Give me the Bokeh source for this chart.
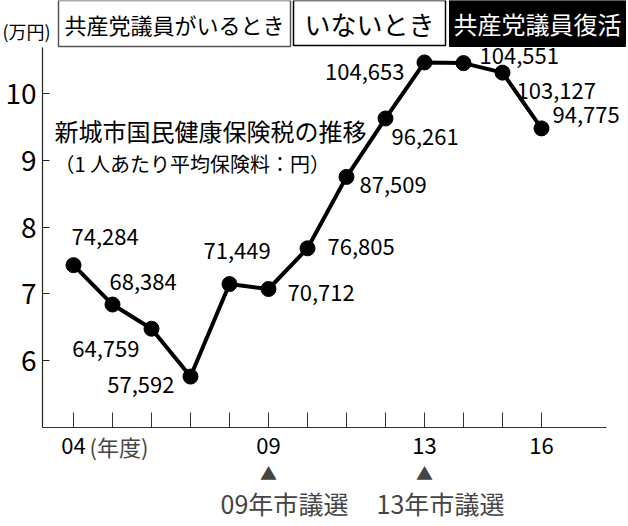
from bokeh.plotting import figure
from bokeh.models import ColumnDataSource, Label, FixedTicker, Range1d
from bokeh.core.properties import value
from bokeh.embed import file_html
from bokeh.resources import INLINE

# ---- data ----
years = [2004, 2005, 2006, 2007, 2008, 2009, 2010, 2011, 2012, 2013, 2014, 2015, 2016]
premium_yen = [74284, 68384, 64759, 57592, 71449, 70712, 76805, 87509, 96261, 104653, 104551, 103127, 94775]
y_ticks = [6, 7, 8, 9, 10]
x_tick_labels = {2004: "04", 2009: "09", 2013: "13", 2016: "16"}
elections = [2009, 2013]
election_labels = ["09年市議選", "13年市議選"]
periods = ["共産党議員がいるとき", "いないとき", "共産党議員復活"]

# label placement (screen px offsets relative to each point) - layout only
lbl_dx = [-2, -3, -12, -16, -26, 19, 20, 13, 6, -20, 16, 14, 11]
lbl_dy = [-28, -23, 20, 8, -33, 4, -1, 8, 19, 10, -7, 18, -13]
lbl_align = ["left", "left", "right", "right", "left", "left", "left", "left", "left", "right", "left", "left", "left"]

FONT = "Noto Sans CJK JP"
W, H = 626, 524
PX_PER_YEAR = 39.0
PX_PER_UNIT = 66.75
X0 = 2004 - 73 / PX_PER_YEAR
X1 = X0 + W / PX_PER_YEAR
Y1 = 10 + 93 / PX_PER_UNIT
Y0 = Y1 - H / PX_PER_UNIT

def dx(cx):  # canvas x -> data x
    return X0 + cx / PX_PER_YEAR

def dy(cy):  # canvas y -> data y
    return Y1 - cy / PX_PER_UNIT

vals = [v / 10000 for v in premium_yen]
src = ColumnDataSource(dict(
    x=years, y=vals,
    txt=[f"{v:,}" for v in premium_yen],
    dx=lbl_dx, dy=lbl_dy, al=lbl_align,
))

p = figure(width=W, height=H, output_backend="svg", toolbar_location=None,
           x_range=Range1d(X0, X1), y_range=Range1d(Y0, Y1),
           min_border=0, min_border_left=0, min_border_right=0,
           min_border_top=0, min_border_bottom=0)
p.outline_line_color = None
p.xgrid.visible = False
p.ygrid.visible = False
p.background_fill_color = "white"
p.border_fill_color = "white"

p.line("x", "y", source=src, line_color="black", line_width=4)
p.scatter("x", "y", source=src, size=15, fill_color="black", line_color="black")
p.text("x", "y", text="txt", source=src, x_offset="dx", y_offset="dy",
       text_align="al", text_baseline="middle",
       text_font=value(FONT), text_font_size="22px", text_color="black")

# axes (placed at fixed data locations)
x_axis_at = 5.0
y_axis_at = dx(42)

xa = p.xaxis[0]
xa.fixed_location = x_axis_at
xa.bounds = (y_axis_at, dx(606))
xa.ticker = FixedTicker(ticks=years)
xa.major_label_overrides = {y: x_tick_labels.get(y, "") for y in years}
xa.major_tick_in = 15
xa.major_tick_out = 0
xa.minor_tick_line_color = None
xa.axis_line_color = "#333333"
xa.major_tick_line_color = "#333333"
xa.axis_line_width = 1.2
xa.major_label_text_font = FONT
xa.major_label_text_font_size = "22px"
xa.major_label_text_color = "black"
xa.major_label_standoff = 11

ya = p.yaxis[0]
ya.fixed_location = y_axis_at
ya.bounds = (x_axis_at, dy(47))
ya.ticker = FixedTicker(ticks=y_ticks)
ya.major_tick_in = 7
ya.major_tick_out = 0
ya.minor_tick_line_color = None
ya.axis_line_color = "#222222"
ya.major_tick_line_color = "#222222"
ya.axis_line_width = 1.2
ya.major_label_text_font = FONT
ya.major_label_text_font_size = "28px"
ya.major_label_text_color = "black"
ya.major_label_standoff = 6

def add_label(text, cx, cy, size, align="left", baseline="middle", color="black", **kw):
    p.add_layout(Label(x=dx(cx), y=dy(cy), text=text, text_font=FONT,
                       text_font_size=size, text_align=align, text_baseline=baseline,
                       text_color=color, **kw))

# unit label
add_label("(万円)", 2, 30, "18px")

# period header boxes
add_label(periods[0], 58, 0, "22px", baseline="top", border_line_color="#555555",
          border_line_width=1.5, background_fill_color="white",
          padding=dict(left=6, right=6, top=7, bottom=7))
add_label(periods[1], 293, 0, "26px", baseline="top", border_line_color="black",
          border_line_width=1.5, background_fill_color="white",
          padding=dict(left=11, right=11, top=4, bottom=4))
add_label(periods[2], 449, 0, "24px", baseline="top", color="white",
          background_fill_color="black", border_line_color="black",
          padding=dict(left=4, right=4, top=5, bottom=6))

# chart title
add_label("新城市国民健康保険税の推移", 54, 130, "24px")
add_label("（1 人あたり平均保険料：円）", 54, 163, "20px")

# fiscal-year unit next to 04
p.add_layout(Label(x=years[0], y=dy(445), text="(年度)", text_font=FONT,
                   text_font_size="22px", text_align="left", text_baseline="middle",
                   x_offset=16))

# election markers
for yr, lab in zip(elections, election_labels):
    p.add_layout(Label(x=yr, y=dy(472), text="▲", text_font=FONT, text_font_size="17px",
                       text_align="center", text_baseline="middle"))
    p.add_layout(Label(x=yr, y=dy(502), text=lab, text_font=FONT, text_font_size="25px",
                       text_align="center", text_baseline="middle", x_offset=16))

open("out.html", "w").write(file_html(p, INLINE))
